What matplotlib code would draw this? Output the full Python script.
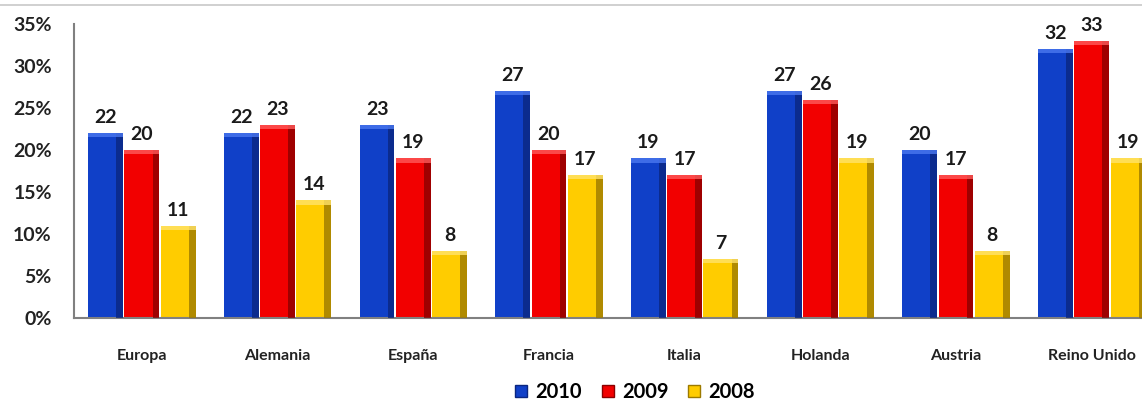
import matplotlib.pyplot as plt
from matplotlib.patches import Patch
import numpy as np

plt.rcParams['font.family'] = ['Lato', 'DejaVu Sans']

countries = ['Europa', 'Alemania', 'España', 'Francia', 'Italia',
             'Holanda', 'Austria', 'Reino Unido']
years = ['2010', '2009', '2008']
v2010 = [22, 22, 23, 27, 19, 27, 20, 32]
v2009 = [20, 23, 19, 20, 17, 26, 17, 33]
v2008 = [11, 14, 8, 17, 7, 19, 8, 19]

colors = ['#1040C8', '#F20000', '#FFCC00']
dark = ['#0A2680', '#8A0000', '#9C7A00']
light = ['#4A78F0', '#FF5A5A', '#FFE36A']

fig = plt.figure(figsize=(11.42, 4.04), dpi=100)
ax = fig.add_axes([0.0648, 0.2129, 0.9506, 0.7277])

x = np.arange(len(countries))
w = 0.267
for i, vals in enumerate([v2010, v2009, v2008]):
    pos = x + (i - 1) * w
    ax.bar(pos, vals, width=w - 0.01, color=colors[i], edgecolor='none', zorder=2)
    # bevel: dark strip on the right, light strip on top
    ax.bar(pos + (w - 0.01) / 2 - 0.025, vals, width=0.05, color=dark[i],
           edgecolor='none', zorder=3, alpha=0.8)
    ax.bar(pos, [0.5] * len(vals), bottom=np.array(vals) - 0.5, width=w - 0.01,
           color=light[i], edgecolor='none', zorder=4, alpha=0.8)
    for xp, v in zip(pos, vals):
        ax.annotate(str(v), (xp, v), xytext=(0, 5), textcoords='offset points',
                    ha='center', va='bottom', fontsize=14, fontweight='bold',
                    color='#1a1a1a')

ax.set_xlim(-0.5, len(countries) - 0.5)
ax.set_ylim(0, 35)
ax.set_yticks(np.arange(0, 36, 5))
ax.set_yticklabels([f'{t}%' for t in range(0, 36, 5)], fontsize=14,
                   fontweight='bold', color='#222222')
ax.set_xticks(x)
ax.set_xticklabels(countries, fontsize=11.5, fontweight='bold', color='#222222')
ax.tick_params(axis='both', length=0)
ax.tick_params(axis='x', pad=22)
ax.tick_params(axis='y', pad=16)
for s in ['top', 'right']:
    ax.spines[s].set_visible(False)
for s in ['left', 'bottom']:
    ax.spines[s].set_color('#808080')
    ax.spines[s].set_linewidth(1.5)

# thin rule along the top
fig.add_artist(plt.Line2D([0, 1], [0.988, 0.988], color='#c8c8c8', lw=1.2))

handles = [Patch(facecolor=c, edgecolor=d) for c, d in zip(colors, dark)]
fig.legend(handles, years, loc='lower center', bbox_to_anchor=(0.556, -0.04),
           ncol=3, frameon=False, prop={'size': 14.5, 'weight': 'bold'},
           handlelength=0.6, handleheight=0.6, handletextpad=0.4, columnspacing=1.0)

fig.savefig('out.png', dpi=100)
